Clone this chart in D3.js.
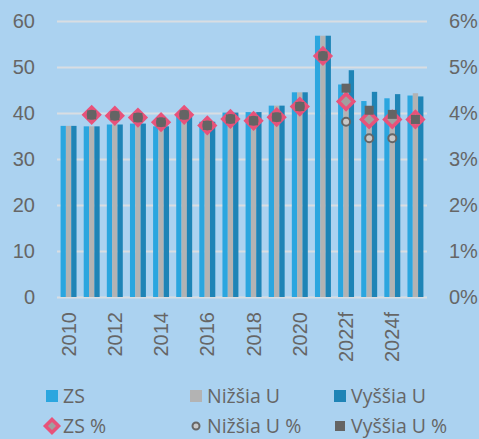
<!DOCTYPE html>
<html>
<head>
<meta charset="utf-8">
<script src="https://cdn.jsdelivr.net/npm/d3@7"></script>
<style>
  body { margin: 0; background: #abd2f0; }
  svg { display: block; font-family: "Open Sans", sans-serif; }
  .axis text { fill: #666; font-size: 20px; }
  .axis path, .axis line { display: none; }
  .grid line { stroke: #d9dde2; stroke-width: 2; }
  .grid path { display: none; }
  .legend text { fill: #666; font-size: 19.5px; }
</style>
</head>
<body>
<div class="chart"></div>
<script>
var years = ["2010", "2011", "2012", "2013", "2014", "2015", "2016", "2017",
  "2018", "2019", "2020", "2021", "2022f", "2023f", "2024f", "2025f"];
var tickYears = ["2010", "2012", "2014", "2016", "2018", "2020", "2022f", "2024f"];

var zs = [37.2, 37.1, 37.5, 37.7, 37.1, 39.6, 38.1, 40.1, 40.2, 41.6, 44.5, 56.8, 46.2, 42.6, 43.2, 43.8];
var nizsia = [37.2, 37.1, 37.5, 37.7, 37.1, 39.6, 38.1, 40.1, 40.2, 41.6, 44.5, 56.8, 45.0, 40.5, 40.5, 44.3];
var vyssia = [37.2, 37.1, 37.5, 37.7, 37.1, 39.6, 38.1, 40.1, 40.2, 41.6, 44.5, 56.8, 49.3, 44.6, 44.1, 43.6];

var zsPct = [null, 3.96, 3.94, 3.90, 3.80, 3.96, 3.73, 3.87, 3.83, 3.91, 4.14, 5.24, 4.25, 3.86, 3.86, 3.86];
var nizsiaPct = [null, 3.96, 3.94, 3.90, 3.80, 3.96, 3.73, 3.87, 3.83, 3.91, 4.14, 5.24, 3.81, 3.45, 3.45, null];
var vyssiaPct = [null, 3.96, 3.94, 3.90, 3.80, 3.96, 3.73, 3.87, 3.83, 3.91, 4.14, 5.24, 4.54, 4.06, 3.97, 3.86];

var leftTicks = [0, 10, 20, 30, 40, 50, 60];
var rightTicks = [0, 1, 2, 3, 4, 5, 6];

var margin = { top: 21, right: 52, bottom: 142, left: 57 };
var width = 479 - margin.left - margin.right;
var height = 439 - margin.top - margin.bottom;

var svg = d3.select(".chart").append("svg")
  .attr("width", 479)
  .attr("height", 439);

var chart = svg.append("g")
  .attr("transform", `translate(${margin.left},${margin.top})`);

var x = d3.scaleBand().domain(years).range([0, width]).paddingInner(0.31).paddingOuter(0.155);
var xSub = d3.scaleBand().domain(["zs", "nizsia", "vyssia"]).range([0, x.bandwidth()]);
var y = d3.scaleLinear().domain([0, 60]).range([height, 0]);
var yPct = d3.scaleLinear().domain([0, 6]).range([height, 0]);

// gridlines
chart.append("g").attr("class", "grid")
  .call(d3.axisLeft(y).tickValues(leftTicks).tickSize(-width).tickFormat(""));

// bars
var barSeries = [
  { key: "zs", values: zs, color: "#2ba6df" },
  { key: "nizsia", values: nizsia, color: "#b3b3b3" },
  { key: "vyssia", values: vyssia, color: "#1e84b6" }
];
barSeries.forEach(s => {
  chart.append("g").selectAll("rect")
    .data(years)
    .enter().append("rect")
    .attr("x", (d, i) => x(d) + xSub(s.key))
    .attr("width", xSub.bandwidth())
    .attr("y", (d, i) => y(s.values[i]))
    .attr("height", (d, i) => height - y(s.values[i]))
    .attr("fill", s.color);
});

var cx = d => x(d) + x.bandwidth() / 2;

// ZS % diamonds
chart.append("g").selectAll("path")
  .data(years.filter((d, i) => zsPct[i] != null))
  .enter().append("path")
  .attr("d", d3.symbol(d3.symbolDiamond2, 150)())
  .attr("transform", d => `translate(${cx(d)},${yPct(zsPct[years.indexOf(d)])})`)
  .attr("fill", "#a0a0a0")
  .attr("stroke", "#e8527a")
  .attr("stroke-width", 3.5);

// Nižšia U % circles
chart.append("g").selectAll("circle")
  .data(years.filter((d, i) => nizsiaPct[i] != null))
  .enter().append("circle")
  .attr("cx", cx)
  .attr("cy", d => yPct(nizsiaPct[years.indexOf(d)]))
  .attr("r", 4)
  .attr("fill", "#c8c8c8")
  .attr("stroke", "#666")
  .attr("stroke-width", 2);

// Vyššia U % squares
chart.append("g").selectAll("rect")
  .data(years.filter((d, i) => vyssiaPct[i] != null))
  .enter().append("rect")
  .attr("x", d => cx(d) - 4.5)
  .attr("y", d => yPct(vyssiaPct[years.indexOf(d)]) - 4.5)
  .attr("width", 9)
  .attr("height", 9)
  .attr("fill", "#646464");

// axes
chart.append("g").attr("class", "axis")
  .call(d3.axisLeft(y).tickValues(leftTicks).tickSize(0).tickPadding(22));

chart.append("g").attr("class", "axis")
  .attr("transform", `translate(${width},0)`)
  .call(d3.axisRight(yPct).tickValues(rightTicks).tickSize(0).tickPadding(22).tickFormat(d => d + "%"));

var xAxis = chart.append("g").attr("class", "axis")
  .attr("transform", `translate(0,${height})`)
  .call(d3.axisBottom(x).tickValues(tickYears).tickSize(0));
xAxis.selectAll("text")
  .attr("transform", "rotate(-90)")
  .attr("text-anchor", "end")
  .attr("dy", "0.35em")
  .attr("x", -15)
  .attr("y", 0);

// legend
var legendItems = [
  { label: "ZS", type: "bar", color: "#2ba6df", col: 0, row: 0 },
  { label: "Nižšia U", type: "bar", color: "#b3b3b3", col: 1, row: 0 },
  { label: "Vyššia U", type: "bar", color: "#1e84b6", col: 2, row: 0 },
  { label: "ZS %", type: "diamond", col: 0, row: 1 },
  { label: "Nižšia U %", type: "circle", col: 1, row: 1 },
  { label: "Vyššia U %", type: "square", col: 2, row: 1 }
];
var legend = svg.append("g").attr("class", "legend");
var item = legend.selectAll("g").data(legendItems).enter().append("g")
  .attr("transform", d => `translate(${52 + d.col * 144},${396 + d.row * 30})`);
item.each(function(d) {
  var g = d3.select(this);
  if (d.type === "bar") {
    g.append("rect").attr("x", -6).attr("y", -6).attr("width", 12).attr("height", 12).attr("fill", d.color);
  } else if (d.type === "diamond") {
    g.append("path").attr("d", d3.symbol(d3.symbolDiamond2, 110)())
      .attr("fill", "#a0a0a0").attr("stroke", "#e8527a").attr("stroke-width", 3.5);
  } else if (d.type === "circle") {
    g.append("circle").attr("r", 3.5)
      .attr("fill", "#c8c8c8").attr("stroke", "#666").attr("stroke-width", 2);
  } else {
    g.append("rect").attr("x", -5).attr("y", -5).attr("width", 10).attr("height", 10).attr("fill", "#646464");
  }
  g.append("text").attr("x", 11).attr("dy", "0.35em").text(d.label);
});
</script>
</body>
</html>
